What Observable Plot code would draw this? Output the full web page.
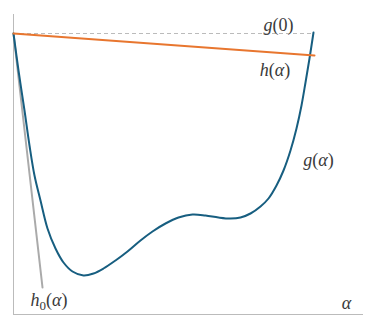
<!DOCTYPE html>
<html><head><meta charset="utf-8">
<script src="https://cdn.jsdelivr.net/npm/d3@7"></script>
<script src="https://cdn.jsdelivr.net/npm/@observablehq/plot@0.6"></script>
<style>body{margin:0;background:#fff}</style>
</head><body><div id="chart"></div>
<script>
const alpha = [0,0.05,0.11,0.16,0.21,0.27,0.34,0.42,0.50,0.59,0.70,0.80,0.90,1.02,1.14,1.27,1.39,1.52,1.65,1.79,1.92,2.05,2.17,2.27,2.37,2.47,2.55,2.63,2.70,2.77,2.83,2.88,2.92,2.96,3.00];
const gVals = [2.81,2.44,2.04,1.69,1.39,1.14,0.86,0.66,0.52,0.43,0.39,0.41,0.46,0.54,0.63,0.74,0.83,0.91,0.97,1.00,0.99,0.97,0.96,0.97,1.01,1.08,1.16,1.29,1.44,1.64,1.86,2.09,2.32,2.56,2.82];
const hLine = {alpha:[0,3.01], value:[2.81,2.59]};
const h0Line = {alpha:[0,0.29], value:[2.81,0.27]};
const g0 = 2.81;
const labels = [
  {key:"g0", x:2.65, y:2.895},
  {key:"h", x:2.615, y:2.44},
  {key:"g", x:3.05, y:1.54},
  {key:"h0", x:0.355, y:0.14},
  {key:"a", x:3.33, y:0.11}
];
// label pieces: [text, italic, subscript]
const labelParts = {
  g0:[["g",1,0],["(0)",0,0]],
  h:[["h",1,0],["(",0,0],["α",1,0],[")",0,0]],
  g:[["g",1,0],["(",0,0],["α",1,0],[")",0,0]],
  h0:[["h",1,0],["0",0,1],["(",0,0],["α",1,0],[")",0,0]],
  a:[["α",1,0]]
};
const curve = alpha.map((a,i)=>({a, v:gVals[i]}));
const hData = hLine.alpha.map((a,i)=>({a, v:hLine.value[i]}));
const h0Data = h0Line.alpha.map((a,i)=>({a, v:h0Line.value[i]}));

const plot = Plot.plot({
  width:377, height:329,
  marginLeft:13, marginRight:14, marginTop:14, marginBottom:15,
  x:{domain:[0,3.5], axis:null},
  y:{domain:[0,3], axis:null},
  style:{background:"#fff"},
  marks:[
    Plot.ruleX([0], {y1:0, y2:3, stroke:"#bbbbbb", strokeWidth:1}),
    Plot.ruleY([0], {x1:0, x2:3.5, stroke:"#bbbbbb", strokeWidth:1}),
    Plot.ruleY([g0], {x1:0, x2:3.0, stroke:"#bbbbbb", strokeDasharray:"4,3", strokeWidth:1}),
    Plot.line(h0Data, {x:"a", y:"v", stroke:"#aaaaaa", strokeWidth:2}),
    Plot.line(curve, {x:"a", y:"v", stroke:"#175e80", strokeWidth:2, curve:"catmull-rom"}),
    Plot.line(hData, {x:"a", y:"v", stroke:"#e8762f", strokeWidth:2}),
    Plot.text(labels, {x:"x", y:"y", text:"key", fill:"#3a3a3a", textAnchor:"middle", lineAnchor:"middle", fontSize:18, fontFamily:"Liberation Serif"})
  ]
});
document.getElementById("chart").appendChild(plot);
const NS = "http://www.w3.org/2000/svg";
d3.select(plot).selectAll("text").each(function(){
  const k = this.textContent;
  const parts = labelParts[k];
  if (!parts) return;
  this.setAttribute("font-family", "Liberation Serif");
  while (this.firstChild) this.removeChild(this.firstChild);
  let prevSub = 0;
  for (const [t, it, sub] of parts) {
    const ts = document.createElementNS(NS, "tspan");
    ts.textContent = t;
    if (it) ts.setAttribute("font-style", "italic");
    if (sub) { ts.setAttribute("font-size", "13"); }
    if (sub !== prevSub) ts.setAttribute("dy", sub ? "4" : "-4");
    prevSub = sub;
    this.appendChild(ts);
  }
});
</script></body></html>
